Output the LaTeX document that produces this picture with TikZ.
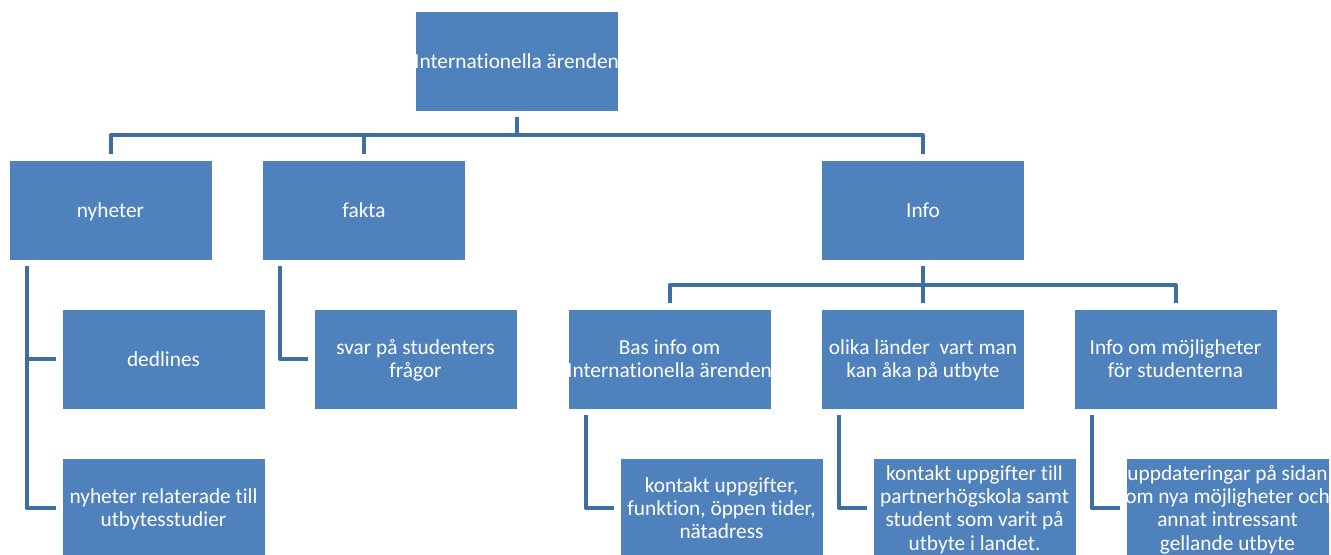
\documentclass[tikz,border=0pt]{standalone}
\usepackage{fontspec}
\setmainfont[Ligatures=NoCommon]{Carlito}
\usetikzlibrary{calc}
\definecolor{boxblue}{HTML}{4F81BD}
\definecolor{linkblue}{HTML}{3F6EA2}
\newcommand{\bxt}[1]{\makebox[0pt]{\begin{tabular}{@{}c@{}}#1\end{tabular}}}
\begin{document}
\begin{tikzpicture}[x=0.75pt,y=-0.75pt,
  orgbox/.style={rectangle, fill=boxblue, draw=white, line width=0.6pt,
    minimum width=152.25pt, minimum height=75pt, inner sep=0pt,
    text=white, font=\fontsize{16}{17.4}\selectfont},
  txt/.style={text=white, inner sep=0pt, yshift=-2pt, font=\fontsize{16}{17.4}\selectfont},
  link/.style={draw=linkblue, line width=3pt, line join=round,
    shorten <=4.5pt, shorten >=4.5pt}]
\useasboundingbox (0,0) rectangle (1331,554);
% level 1
\node[orgbox, label={[txt]center:\bxt{Internationella ärenden}}] (top) at (516.5,61) {};
% level 2
\node[orgbox, label={[txt]center:\bxt{nyheter}}] (ny) at (110.5,210) {};
\node[orgbox, label={[txt]center:\bxt{fakta}}] (fa) at (364,210) {};
\node[orgbox, label={[txt]center:\bxt{Info}}] (in) at (923,210) {};
% level 3
\node[orgbox, label={[txt]center:\bxt{dedlines}}] (dl) at (163.5,359) {};
\node[orgbox, label={[txt]center:\bxt{svar på studenters\\frågor}}] (sv) at (415.5,359) {};
\node[orgbox, label={[txt]center:\bxt{Bas info om\\Internationella ärenden}}] (ba) at (669.5,359) {};
\node[orgbox, label={[txt]center:\bxt{olika länder~ vart man\\kan åka på utbyte}}] (ol) at (923,359) {};
\node[orgbox, label={[txt]center:\bxt{Info om möjligheter\\för studenterna}}] (mo) at (1175.5,359) {};
% level 4
\node[orgbox, label={[txt]center:\bxt{nyheter relaterade till\\utbytesstudier}}] (nr) at (163.5,508) {};
\node[orgbox, label={[txt]center:\bxt{kontakt uppgifter,\\funktion, öppen tider,\\nätadress}}] (ku) at (721.5,508) {};
\node[orgbox, label={[txt]center:\bxt{kontakt uppgifter till\\partnerhögskola samt\\student som varit på\\utbyte i landet.}}] (kt) at (974.5,508) {};
\node[orgbox, label={[txt]center:\bxt{uppdateringar på sidan\\om nya möjligheter och\\annat intressant\\gellande utbyte}}] (up) at (1227.5,508) {};
% connectors
\draw[link] (top.south) -- ++(0,24) -| (ny.north);
\draw[link] (top.south) -- ++(0,24) -| (fa.north);
\draw[link] (top.south) -- ++(0,24) -| (in.north);
\draw[link] (in.south) -- ++(0,25) -| (ba.north);
\draw[link] (in.south) -- ++(0,25) -| (ol.north);
\draw[link] (in.south) -- ++(0,25) -| (mo.north);
\draw[link] ($(ny.south west)+(18,0)$) |- (dl.west);
\draw[link] ($(ny.south west)+(18,0)$) |- (nr.west);
\draw[link] ($(fa.south west)+(18,0)$) |- (sv.west);
\draw[link] ($(ba.south west)+(18,0)$) |- (ku.west);
\draw[link] ($(ol.south west)+(18,0)$) |- (kt.west);
\draw[link] ($(mo.south west)+(18,0)$) |- (up.west);
\end{tikzpicture}
\end{document}
